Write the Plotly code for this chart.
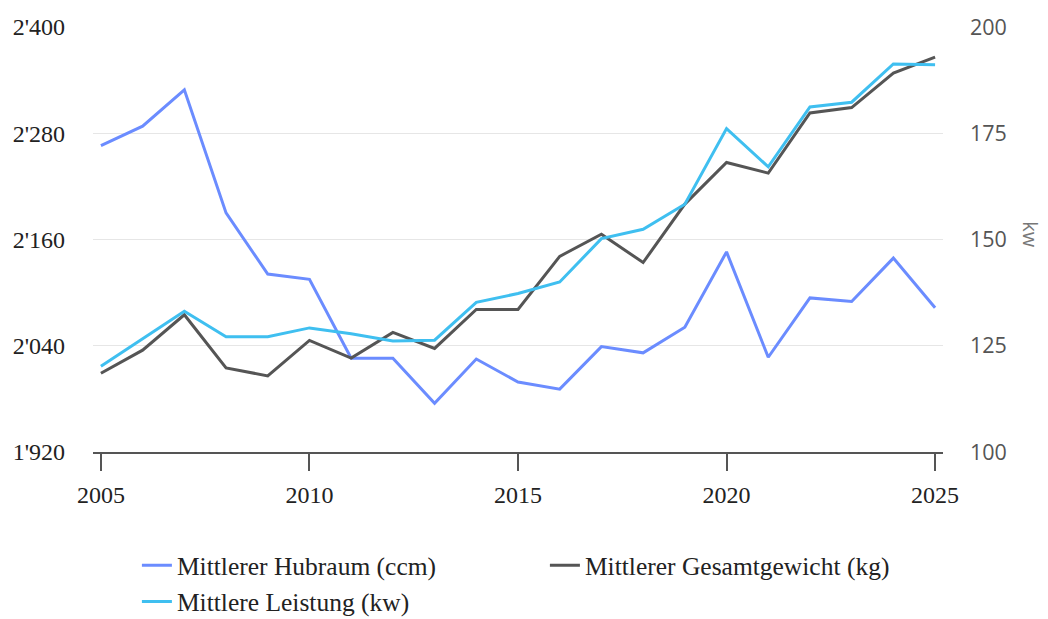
import plotly.graph_objects as go

years = list(range(2005, 2026))
hubraum = [2266, 2288, 2329, 2190, 2121, 2115, 2026, 2026, 1975, 2025, 1999,
           1991, 2039, 2032, 2061, 2146, 2027, 2094, 2090, 2139, 2083]
gewicht = [2009, 2035, 2075, 2015, 2006, 2046, 2026, 2055, 2037, 2081, 2081,
           2141, 2166, 2134, 2200, 2247, 2235, 2303, 2309, 2348, 2366]
leistung = [120.2, 126.7, 133.1, 127.1, 127.1, 129.2, 127.8, 126.1, 126.3, 135.2, 137.3,
            140.0, 150.2, 152.4, 158.3, 176.1, 167.1, 181.2, 182.3, 191.3, 191.1]

left_ticks = [1920, 2040, 2160, 2280, 2400]
left_labels = ["1'920", "2'040", "2'160", "2'280", "2'400"]
right_ticks = [100, 125, 150, 175, 200]
x_ticks = [2005, 2010, 2015, 2020, 2025]

names = ["Mittlerer Hubraum (ccm)", "Mittlerer Gesamtgewicht (kg)", "Mittlere Leistung (kw)"]
colors = ["#6b8cff", "#555555", "#3fbff0"]

serif = "Liberation Serif"
sans = "Open Sans"

fig = go.Figure()
fig.add_trace(go.Scatter(x=years, y=hubraum, name=names[0], mode="lines",
                         line=dict(color=colors[0], width=3), yaxis="y"))
fig.add_trace(go.Scatter(x=years, y=gewicht, name=names[1], mode="lines",
                         line=dict(color=colors[1], width=3), yaxis="y"))
fig.add_trace(go.Scatter(x=years, y=leistung, name=names[2], mode="lines",
                         line=dict(color=colors[2], width=3), yaxis="y2"))

fig.update_layout(
    width=1048, height=619,
    margin=dict(l=85, r=113, t=19, b=175, autoexpand=False),
    paper_bgcolor="white", plot_bgcolor="white",
    xaxis=dict(range=[2004.81, 2025.19], tickvals=x_ticks, ticks="outside", ticklen=17,
               tickwidth=2, tickcolor="#555555", showline=True, linecolor="#555555",
               linewidth=2, showgrid=False, zeroline=False, automargin=False,
               ticklabelstandoff=3,
               tickfont=dict(family=serif, size=24, color="#222222")),
    yaxis=dict(range=[1920, 2400], tickvals=left_ticks, ticktext=left_labels,
               showgrid=True, gridcolor="#e6e6e6", gridwidth=1, zeroline=False,
               showline=False, ticklabelstandoff=27, automargin=False,
               tickfont=dict(family=serif, size=24, color="#222222")),
    yaxis2=dict(range=[100, 200], tickvals=right_ticks, overlaying="y", side="right",
                showgrid=False, zeroline=False, showline=False, ticklabelstandoff=26,
                automargin=False,
                tickfont=dict(family=sans, size=21.5, color="#555555")),
    legend=dict(orientation="h", xref="container", yref="container",
                x=0.123, y=0.137, xanchor="left", yanchor="top",
                entrywidth=363, font=dict(family=serif, size=25.5, color="#222222"),
                itemwidth=30, tracegroupgap=0),
    showlegend=True,
)
fig.add_annotation(text="kw", xref="paper", yref="paper", x=1.1035, y=0.51,
                   xanchor="center", yanchor="middle",
                   showarrow=False, textangle=90,
                   font=dict(family=sans, size=20, color="#777777"))

fig.write_html("out.html")
